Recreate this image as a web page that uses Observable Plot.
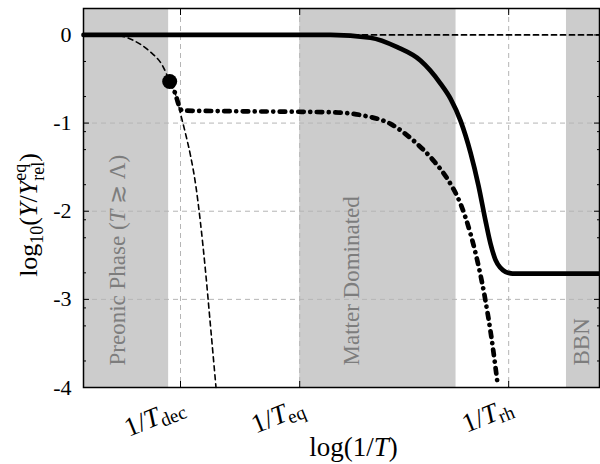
<!DOCTYPE html>
<html><head><meta charset="utf-8">
<script src="https://cdn.jsdelivr.net/npm/d3@7"></script>
<script src="https://cdn.jsdelivr.net/npm/@observablehq/plot@0.6"></script>
<style>
body{margin:0;background:#fff;}
#chart svg{display:block;}
#chart text{font-family:"Liberation Serif","DejaVu Serif",serif;}
</style></head><body><div id="chart"></div>
<script>
// axes
const xDomain = [0, 10];
const yDomain = [-4, 0.3];
const yMajor = [0, -1, -2, -3, -4];
const yMinor = [-0.301, -0.699, -1.097, -1.301, -1.699, -2.097, -2.301, -2.699, -3.097, -3.301, -3.699];
const xTickPos = [1.88, 4.19, 8.24];
const xTickLabels = ["1/Tdec", "1/Teq", "1/Trh"];

// shaded epochs
const bandNames = ["Preonic Phase (T ≳ Λ)", "Matter Dominated", "BBN"];
const bandStart = [0, 4.19, 9.36];
const bandEnd = [1.65, 7.22, 10];
const bandLabelX = [0.81, 5.33, 9.79];

// equilibrium (thin dashed) curve
const eqX = [0, 0.65, 0.97, 1.30, 1.53, 1.67, 1.82, 1.88, 1.977, 2.074, 2.171, 2.267, 2.364, 2.461, 2.568];
const eqY = [0, -0.006, -0.0625, -0.195, -0.347, -0.528, -0.744, -0.892, -1.119, -1.369, -1.688, -2.131, -2.676, -3.301, -4.0];
// relativistic equilibrium level (thin dashed)
const relX = [0, 10];
const relY = [0, 0];
// decoupled species (dash-dot)
const decX = [1.67, 1.78, 1.85, 1.91, 3.0, 4.787, 5.426, 5.95, 6.395, 6.783, 7.074, 7.306, 7.5, 7.655, 7.791, 7.907, 8.023];
const decY = [-0.528, -0.668, -0.80, -0.858, -0.866, -0.877, -0.915, -1.009, -1.199, -1.426, -1.653, -1.915, -2.256, -2.619, -3.017, -3.438, -3.949];
// thick solid curve
const solX = [0, 4.79, 5.56, 6.08, 6.53, 6.919, 7.112, 7.306, 7.5, 7.655, 7.791, 7.888, 7.984, 8.081, 8.178, 8.314, 10];
const solY = [0, 0, -0.032, -0.139, -0.290, -0.551, -0.722, -0.972, -1.335, -1.71, -2.108, -2.369, -2.551, -2.642, -2.688, -2.707, -2.707];
// decoupling point
const decPointX = [1.67];
const decPointY = [-0.528];

const font = '"Liberation Serif", "DejaVu Serif", serif';
const pts = (xs, ys) => xs.map((x, i) => ({x, y: ys[i]}));
const bands = bandNames.map((name, i) => ({name, x1: bandStart[i], x2: bandEnd[i], lx: bandLabelX[i]}));
const ticks = xTickPos.map((x, i) => ({x, label: xTickLabels[i]}));
const blank = () => "";

const chart = Plot.plot({
  width: 600, height: 464,
  marginLeft: 83, marginRight: 1, marginTop: 8, marginBottom: 77,
  style: {fontFamily: font, background: "white", color: "black"},
  x: {domain: xDomain, axis: null},
  y: {domain: yDomain, axis: null},
  marks: [
    Plot.rect(bands, {x1: "x1", x2: "x2", fill: "#cccccc"}),
    Plot.ruleY(yMajor.slice(1, 4), {stroke: "#b5b5b5", strokeDasharray: "5,4", strokeWidth: 1}),
    Plot.ruleX(xTickPos, {stroke: "#b5b5b5", strokeDasharray: "5,4", strokeWidth: 1}),
    Plot.text(bands, {x: "lx", frameAnchor: "bottom", dy: -22, text: "name", rotate: -90,
      textAnchor: "start", lineAnchor: "bottom", fontSize: 23, fill: "#7d7d7d", fontFamily: font}),
    Plot.line(pts(relX, relY), {x: "x", y: "y", stroke: "black", strokeWidth: 1.8, strokeDasharray: "5,4"}),
    Plot.line(pts(eqX, eqY), {x: "x", y: "y", stroke: "black", strokeWidth: 1.6, strokeDasharray: "5,4", curve: "monotone-x"}),
    Plot.line(pts(decX, decY), {x: "x", y: "y", stroke: "black", strokeWidth: 4.7, strokeDasharray: "5.5,6.5,0.01,6.5",
      strokeLinecap: "round", curve: "monotone-x"}),
    Plot.line(pts(solX, solY), {x: "x", y: "y", stroke: "black", strokeWidth: 4.7, strokeLinecap: "round", curve: "monotone-x"}),
    Plot.dot(pts(decPointX, decPointY), {x: "x", y: "y", r: 7.5, fill: "black"}),
    Plot.frame({stroke: "black", strokeWidth: 1.5}),
    Plot.axisY(yMajor, {anchor: "left", tickSize: -6, tickFormat: blank, label: null}),
    Plot.axisY(yMinor, {anchor: "left", tickSize: -3, tickFormat: blank, label: null}),
    Plot.axisY(yMajor, {anchor: "right", tickSize: -6, tickFormat: blank, label: null}),
    Plot.axisY(yMinor, {anchor: "right", tickSize: -3, tickFormat: blank, label: null}),
    Plot.axisX(xTickPos, {anchor: "bottom", tickSize: -6, tickFormat: blank, label: null}),
    Plot.axisX(xTickPos, {anchor: "top", tickSize: -6, tickFormat: blank, label: null}),
    Plot.axisY(yMajor, {anchor: "left", tickSize: 0, tickPadding: 12, fontSize: 22, label: null,
      fontFamily: font, tickFormat: d => String(d)}),
    Plot.text(ticks, {x: "x", text: "label", frameAnchor: "bottom", dx: 6, dy: 26, rotate: -22,
      textAnchor: "end", lineAnchor: "bottom", fontSize: 27, fontFamily: font}),
    Plot.text(["log(1/T)"], {frameAnchor: "bottom", dx: 12, dy: 68, lineAnchor: "bottom", fontSize: 27, fontFamily: font}),
    Plot.text(["YLABEL"], {frameAnchor: "left", dx: -47, dy: 17, rotate: -90, textAnchor: "middle",
      lineAnchor: "bottom", fontSize: 26, fontFamily: font})
  ]
});

const rich = {
  "1/Tdec": '1/<tspan font-style="italic">T</tspan><tspan font-size="19" dy="4">dec</tspan>',
  "1/Teq": '1/<tspan font-style="italic">T</tspan><tspan font-size="19" dy="4">eq</tspan>',
  "1/Trh": '1/<tspan font-style="italic">T</tspan><tspan font-size="19" dy="4">rh</tspan>',
  "log(1/T)": 'log(1/<tspan font-style="italic">T</tspan>)',
  "Preonic Phase (T ≳ Λ)": 'Preonic Phase (<tspan font-style="italic">T</tspan> ≳ Λ)',
  "YLABEL": 'log<tspan font-size="18" dy="6">10</tspan><tspan dy="-6">(</tspan><tspan font-style="italic">Y</tspan>/<tspan font-style="italic">Y</tspan><tspan font-size="18" dy="-11">eq</tspan><tspan font-size="18" dx="-17" dy="18">rel</tspan><tspan dy="-7">)</tspan>'
};
chart.querySelectorAll("text").forEach(t => {
  const s = t.textContent;
  if (rich[s]) t.innerHTML = rich[s];
});
document.getElementById("chart").appendChild(chart);
</script></body></html>
